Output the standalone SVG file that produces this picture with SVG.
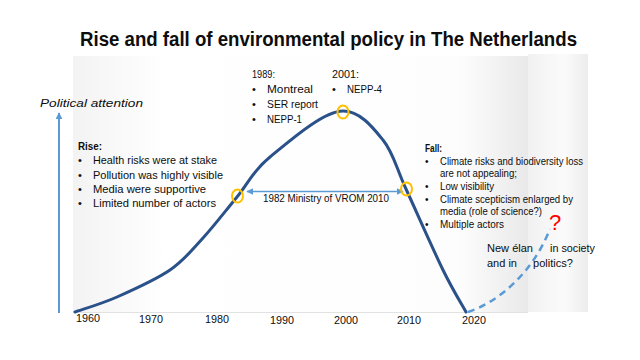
<svg xmlns="http://www.w3.org/2000/svg" width="640" height="360" viewBox="0 0 640 360">
<defs>
<linearGradient id="bg1" x1="0" y1="0" x2="1" y2="0">
<stop offset="0" stop-color="#f3f3f3"/>
<stop offset="0.2" stop-color="#ffffff"/>
<stop offset="0.85" stop-color="#fdfdfd"/>
<stop offset="1" stop-color="#e9e9e9"/>
</linearGradient>
<linearGradient id="bg2" x1="0" y1="0" x2="1" y2="0">
<stop offset="0" stop-color="#f1f1f1"/>
<stop offset="0.6" stop-color="#fbfbfb"/>
<stop offset="1" stop-color="#ececec"/>
</linearGradient>
<marker id="ah" viewBox="0 0 10 10" refX="9" refY="5" markerWidth="7" markerHeight="7" markerUnits="userSpaceOnUse" orient="auto-start-reverse">
<path d="M0,0 L10,5 L0,10 z" fill="#5b9bd5"/>
</marker>
<style>
text{font-family:"Liberation Sans",Arial,sans-serif;fill:#0d0d0d}
.t{font-size:11px}
.f{font-size:10px}
.b{font-weight:bold}
.ring{fill:none;stroke:#ffc000;stroke-width:2}
.blue{stroke:#5b9bd5;fill:none}
</style>
</defs>
<rect width="640" height="360" fill="#ffffff"/>
<g id="background">
<rect x="528" y="54" width="60" height="258" fill="url(#bg2)"/>
<rect x="73" y="56" width="455" height="256" fill="url(#bg1)"/>
<line x1="73" y1="312.5" x2="528" y2="312.5" stroke="#e2e2e2" stroke-width="1"/>
</g>
<g id="title">
<text x="80" y="46" font-size="19.5" class="b" textLength="497" lengthAdjust="spacingAndGlyphs">Rise and fall of environmental policy in The Netherlands</text>
</g>
<g id="axis">
<line x1="59" y1="313" x2="59" y2="113" class="blue" stroke-width="2" marker-end="url(#ah)"/>
<text x="40" y="107" class="t" font-style="italic" textLength="103" lengthAdjust="spacingAndGlyphs">Political attention</text>
<g id="years" class="t">
<text x="76" y="322" textLength="24" lengthAdjust="spacingAndGlyphs">1960</text>
<text x="139" y="323" textLength="24" lengthAdjust="spacingAndGlyphs">1970</text>
<text x="205" y="323" textLength="24" lengthAdjust="spacingAndGlyphs">1980</text>
<text x="270" y="324" textLength="24" lengthAdjust="spacingAndGlyphs">1990</text>
<text x="334" y="324" textLength="24" lengthAdjust="spacingAndGlyphs">2000</text>
<text x="397" y="324" textLength="24" lengthAdjust="spacingAndGlyphs">2010</text>
<text x="462" y="324" textLength="24" lengthAdjust="spacingAndGlyphs">2020</text>
</g>
</g>
<g id="connectors">
<path id="curve" d="M75,312 C82,309.5 101.2,304 117,297 C132.8,290 155.7,279.8 170,270 C184.3,260.2 191.8,250.2 203,238 C214.2,225.8 225.8,210.5 237,197 C248.2,183.5 252.3,171.3 270,157 C287.7,142.7 323,111 343,111 C360,111 372.5,127 383,140 C393.5,153 396,167.3 406,189 C416,210.7 433,249.5 443,270 C453,290.5 462.2,305 466,312" fill="none" stroke="#2a5189" stroke-width="3" stroke-linecap="round"/>
<path id="future" d="M468,312 C498,302 532,274 550,229" class="blue" stroke-width="2.5" stroke-dasharray="7,5"/>
<line id="vrom" x1="247" y1="191.5" x2="403" y2="191.5" class="blue" stroke-width="1.5" marker-start="url(#ah)" marker-end="url(#ah)"/>
</g>
<g id="markers">
<ellipse cx="237.5" cy="196" rx="5.5" ry="6.5" class="ring"/>
<ellipse cx="343" cy="112" rx="5.5" ry="6.5" class="ring"/>
<ellipse cx="406.5" cy="189" rx="5.5" ry="6.5" class="ring"/>
</g>
<g id="vrom-label">
<text x="263" y="202" class="t" textLength="126" lengthAdjust="spacingAndGlyphs">1982 Ministry of VROM 2010</text>
</g>
<g id="rise" class="t">
<text x="78" y="150" class="b" textLength="24" lengthAdjust="spacingAndGlyphs">Rise:</text>
<text x="78" y="164">•</text><text x="93" y="164" textLength="124" lengthAdjust="spacingAndGlyphs">Health risks were at stake</text>
<text x="78" y="179">•</text><text x="93" y="179" textLength="130" lengthAdjust="spacingAndGlyphs">Pollution was highly visible</text>
<text x="78" y="193">•</text><text x="93" y="193" textLength="113" lengthAdjust="spacingAndGlyphs">Media were supportive</text>
<text x="78" y="207">•</text><text x="93" y="207" textLength="123" lengthAdjust="spacingAndGlyphs">Limited number of actors</text>
</g>
<g id="y1989" class="t">
<text x="252" y="78" textLength="23" lengthAdjust="spacingAndGlyphs">1989:</text>
<text x="252" y="93">•</text><text x="267" y="93" textLength="46" lengthAdjust="spacingAndGlyphs">Montreal</text>
<text x="252" y="108">•</text><text x="267" y="108" textLength="51" lengthAdjust="spacingAndGlyphs">SER report</text>
<text x="252" y="123">•</text><text x="267" y="123" textLength="35" lengthAdjust="spacingAndGlyphs">NEPP-1</text>
</g>
<g id="y2001" class="t">
<text x="332" y="78" textLength="27" lengthAdjust="spacingAndGlyphs">2001:</text>
<text x="332" y="93">•</text><text x="347" y="93" textLength="35" lengthAdjust="spacingAndGlyphs">NEPP-4</text>
</g>
<g id="fall" class="f">
<text x="425" y="152" class="b" textLength="17" lengthAdjust="spacingAndGlyphs">Fall:</text>
<text x="425" y="165">•</text><text x="440" y="165" textLength="143" lengthAdjust="spacingAndGlyphs">Climate risks and biodiversity loss</text>
<text x="440" y="177" textLength="77" lengthAdjust="spacingAndGlyphs">are not appealing;</text>
<text x="425" y="190">•</text><text x="440" y="190" textLength="54" lengthAdjust="spacingAndGlyphs">Low visibility</text>
<text x="425" y="203">•</text><text x="440" y="203" textLength="133" lengthAdjust="spacingAndGlyphs">Climate scepticism enlarged by</text>
<text x="440" y="215" textLength="102" lengthAdjust="spacingAndGlyphs">media (role of science?)</text>
<text x="425" y="228">•</text><text x="440" y="228" textLength="64" lengthAdjust="spacingAndGlyphs">Multiple actors</text>
</g>
<g id="future-label" class="t">
<text x="549" y="230" font-size="22" style="fill:#ff0000">?</text>
<text x="487" y="252" textLength="46" lengthAdjust="spacingAndGlyphs">New élan</text>
<text x="550" y="252" textLength="45" lengthAdjust="spacingAndGlyphs">in society</text>
<text x="487" y="267" textLength="30" lengthAdjust="spacingAndGlyphs">and in</text>
<text x="533" y="267" textLength="40" lengthAdjust="spacingAndGlyphs">politics?</text>
</g>
</svg>
